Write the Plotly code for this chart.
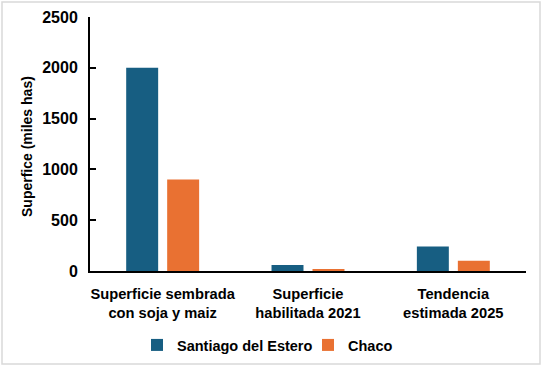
import plotly.graph_objects as go

categories = ["Superficie sembrada<br>con soja y maiz", "Superficie<br>habilitada 2021", "Tendencia<br>estimada 2025"]
santiago = [2000, 60, 240]
chaco = [900, 20, 100]
y_ticks = [0, 500, 1000, 1500, 2000, 2500]
y_title = "Superfice (miles has)"

FONT = "Liberation Sans, Arial, sans-serif"
fig = go.Figure()
fig.add_bar(name="Santiago del Estero", x=categories, y=santiago, marker_color="#175E82", marker_line_width=0)
fig.add_bar(name="Chaco", x=categories, y=chaco, marker_color="#E97132", marker_line_width=0)

L, R, T, B = 90, 27, 17, 95
W, H = 553, 366
pw, ph = W - L - R, H - T - B

fig.update_layout(
    width=W, height=H,
    margin=dict(l=L, r=R, t=T, b=B, autoexpand=False),
    paper_bgcolor="white", plot_bgcolor="white",
    barmode="group", bargap=0.436, bargroupgap=0.22,
    font=dict(family=FONT, size=14, color="black"),
    showlegend=True,
    legend=dict(orientation="h", xref="container", yref="container",
                x=137 / W, xanchor="left", y=(H - 345) / H, yanchor="middle",
                font=dict(family=FONT, size=14.5, color="black", weight="bold"),
                itemwidth=30, traceorder="normal", entrywidth=126, entrywidthmode="pixels"),
    xaxis=dict(showline=True, linecolor="black", linewidth=2, ticks="", automargin=False,
               tickfont=dict(family=FONT, size=14.7, color="black", weight="bold"),
               ticklabelstandoff=8, showgrid=False),
    yaxis=dict(range=[0, 2500], tickvals=y_ticks, showline=True, linecolor="black", linewidth=2,
               ticks="inside", ticklen=6, tickwidth=1.5, tickcolor="black", showgrid=False, zeroline=False,
               automargin=False,
               tickfont=dict(family=FONT, size=16, color="black", weight="bold"),
               ticklabelstandoff=7),
)

fig.add_annotation(text=y_title, textangle=-90, xref="paper", yref="paper",
                   x=(27 - L) / pw, y=(H - B - 147) / ph, xanchor="center", yanchor="middle",
                   showarrow=False, font=dict(family=FONT, size=14, color="black", weight="bold"))

# light frame around the whole chart
fig.add_shape(type="rect", xref="paper", yref="paper",
              x0=(2 - L) / pw, x1=(540 - L) / pw,
              y0=(H - B - 364) / ph, y1=(H - B - 2) / ph,
              line=dict(color="#D9D9D9", width=1.5), fillcolor="rgba(0,0,0,0)", layer="below")

fig.write_html("out.html", config={"displayModeBar": False},
               post_script="document.body.style.margin='0';")
